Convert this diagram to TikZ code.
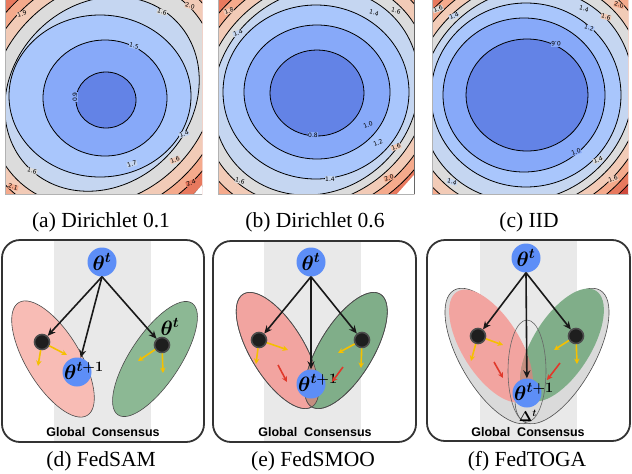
\documentclass[tikz,border=0pt]{standalone}
\usepackage{fontspec}
\setmainfont{Liberation Serif}
\newfontfamily\gcfont{Liberation Sans}
\newfontfamily\dvs{DejaVu Sans}
\usetikzlibrary{arrows.meta,calc}
\definecolor{bz0}{HTML}{6383E6}
\definecolor{bz1}{HTML}{87A9F9}
\definecolor{bz2}{HTML}{A9C6FC}
\definecolor{bz3}{HTML}{C5D6F1}
\definecolor{bz4}{HTML}{DCDCDC}
\definecolor{bz5}{HTML}{F2CBB7}
\definecolor{bz6}{HTML}{F5AA8C}
\definecolor{bz7}{HTML}{E8795E}
\definecolor{bz8}{HTML}{D04A3D}
\definecolor{bz9}{HTML}{B61E2E}
\definecolor{bandgray}{HTML}{E9E9E9}
\definecolor{nodeblue}{HTML}{5D8EF7}
\definecolor{dotcol}{HTML}{1E1E1E}
\definecolor{ygold}{HTML}{F5C000}
\definecolor{rred}{HTML}{E0392B}
\definecolor{pinkd}{HTML}{F8BCB5}
\definecolor{greend}{HTML}{8CB894}
\definecolor{pinke}{HTML}{F2A4A0}
\definecolor{greene}{HTML}{80AE89}
\definecolor{overlapc}{HTML}{C48E80}
\definecolor{grayell}{HTML}{DADADA}
\tikzset{
  contourline/.style={draw=black, line width=0.8pt},
  cl/.style={font=\dvs\fontsize{6}{6}\selectfont, inner sep=0.4pt},
  panelbox/.style={draw=black!80, line width=1.8pt, rounded corners=18pt},
  bluec/.style={circle, fill=nodeblue, minimum size=29pt, inner sep=0pt},
  bdot/.style={circle, fill=dotcol, draw=black!70, line width=1.6pt, minimum size=15pt, inner sep=0pt},
  karr/.style={draw=black!90, line width=1.6pt, -{Stealth[length=8pt,width=7pt]}},
  yarr/.style={draw=ygold, line width=1.6pt, -{Stealth[length=5.5pt,width=5.5pt]}},
  rarr/.style={draw=rred, line width=1.6pt, -{Stealth[length=5.5pt,width=5.5pt]}},
  ellline/.style={draw=black!70, line width=0.6pt},
  thlab/.style={font=\fontsize{21}{21}\selectfont\boldmath, inner sep=0pt},
  gclab/.style={font=\gcfont\bfseries\fontsize{12.5}{12.5}\selectfont, inner sep=0pt},
  captext/.style={font=\fontsize{21.5}{21.5}\selectfont, inner sep=0pt}
}
\begin{document}
\begin{tikzpicture}[x=1pt,y=-1pt]
\useasboundingbox (0,0) rectangle (632,474);
\fill[white] (0,0) rectangle (632,474);

% ---------- contour (a)
\begin{scope}
\clip (5,0) rectangle (202,194);
\fill[bz9] (5,0) rectangle (202,194);
\foreach \a/\b/\x/\y/\r/\c in {
 159/146/103/93/45/bz8, 152/136/103/93/45/bz7, 144/126/103/93/45/bz6,
 134/116/103/93/45/bz5, 122/104/103/93/45/bz4, 104/90/102/94/45/bz3,
 91/81/100/96/0/bz2, 62/58/105/98/0/bz1, 30/28/106/100/0/bz0}
 {\filldraw[fill=\c, contourline, rotate around={\r:(\x,\y)}] (\x,\y) ellipse [x radius=\a, y radius=\b];}
\fill[white] (194,194) -- (202,185) -- (202,194) -- cycle;
\node[cl, fill=bz1, rotate=90] (la1) at (75,97) {0.9};
\node[cl, fill=bz2, rotate=-15] (la2) at (134,46) {1.5};
\node[cl, fill=bz3, rotate=15] (la3) at (132,164) {1.7};
\node[cl, fill=bz3, rotate=20] (la4) at (184,134) {1.4};
\node[cl, fill=bz5, rotate=20] (la5) at (175,160) {1.6};
\node[cl, fill=bz7, rotate=20] (la6) at (191,183) {2.4};
\node[cl, fill=bz4, rotate=-15] (la7) at (162,12) {1.6};
\node[cl, fill=bz5, rotate=-15] (la8) at (190,6) {2.0};
\node[cl, fill=bz5, rotate=15] (la9) at (22,14) {1.9};
\node[cl, fill=bz4, rotate=-15] (la10) at (32,171) {1.6};
\node[cl, fill=bz6, rotate=-15] (la11) at (13,187) {2.1};
\end{scope}
\draw[black!30, line width=0.6pt] (5,0) -- (5,194) -- (202,194);

% ---------- contour (b)
\begin{scope}
\clip (218,0) rectangle (414,194);
\fill[bz9] (218,0) rectangle (414,194);
\foreach \a/\b/\x/\y/\r/\c in {
 156/142/316/92/45/bz8, 149/134/316/92/45/bz7, 141/125/316/92/45/bz6,
 132/116/316/92/45/bz5, 120/106/316/92/45/bz4, 108/98/316/92/45/bz3,
 93/87/316/92/0/bz2, 73/67/317/92/0/bz1, 47/43/317/93/0/bz0}
 {\filldraw[fill=\c, contourline, rotate around={\r:(\x,\y)}] (\x,\y) ellipse [x radius=\a, y radius=\b];}
\fill[white] (397,194) -- (414,175) -- (414,194) -- cycle;
\node[cl, fill=bz1] (lb1) at (313,135) {0.8};
\node[cl, fill=bz1, rotate=20] (lb2) at (368,125) {1.0};
\node[cl, fill=bz2, rotate=20] (lb3) at (378,143) {1.2};
\node[cl, fill=bz3] (lb4) at (330,179) {1.4};
\node[cl, fill=bz3, rotate=-15] (lb5) at (374,13) {1.4};
\node[cl, fill=bz4, rotate=-15] (lb6) at (396,11) {1.6};
\node[cl, fill=bz3, rotate=20] (lb7) at (238,33) {1.4};
\node[cl, fill=bz5, rotate=20] (lb8) at (229,11) {1.8};
\node[cl, fill=bz4, rotate=-15] (lb9) at (240,181) {1.6};
\node[cl, fill=bz5, rotate=20] (lb10) at (396,147) {1.6};
\node[cl, fill=bz6, rotate=20] (lb11) at (389,178) {2.0};
\end{scope}
\draw[black!30, line width=0.6pt] (218,0) -- (218,194) -- (414,194);
\draw[black!60, line width=0.6pt] (414,0) -- (414,194);

% ---------- contour (c)
\begin{scope}
\clip (432,0) rectangle (628,194);
\fill[bz9] (432,0) rectangle (628,194);
\foreach \a/\b/\x/\y/\r/\c in {
 156/142/527/95/45/bz8, 149/135/527/95/45/bz7, 141/127/527/95/45/bz6,
 132/119/527/95/45/bz5, 121/110/527/95/45/bz4, 110/102/527/95/45/bz3,
 95/92/526/95/0/bz2, 81/77/524/95/0/bz1, 61/56/527/95/0/bz0}
 {\filldraw[fill=\c, contourline, rotate around={\r:(\x,\y)}] (\x,\y) ellipse [x radius=\a, y radius=\b];}
\node[cl, fill=bz1, rotate=180] (lc1) at (556,44) {0.6};
\node[cl, fill=bz2, rotate=-15] (lc2) at (589,28) {1.2};
\node[cl, fill=bz3, rotate=-15] (lc3) at (584,9) {1.4};
\node[cl, fill=bz5, rotate=-15] (lc4) at (606,17) {1.6};
\node[cl, fill=bz6, rotate=-15] (lc5) at (619,5) {2.0};
\node[cl, fill=bz3, rotate=20] (lc6) at (454,16) {1.4};
\node[cl, fill=bz4, rotate=20] (lc7) at (438,9) {1.6};
\node[cl, fill=bz1, rotate=20] (lc8) at (576,152) {1.0};
\node[cl, fill=bz4, rotate=20] (lc9) at (598,160) {1.4};
\node[cl, fill=bz5, rotate=20] (lc10) at (613,179) {1.6};
\node[cl, fill=bz3, rotate=-15] (lc11) at (452,182) {1.4};
\end{scope}
\draw[black!30, line width=0.6pt] (432,0) -- (432,194) -- (628,194);

% ---------- captions top
\node[captext] (capa) at (101,222) {(a) Dirichlet 0.1};
\node[captext] (capb) at (315,222) {(b) Dirichlet 0.6};
\node[captext] (capc) at (529,222) {(c) IID};

% ---------- panel (d)
\fill[bandgray] (54,241) rectangle (151,441);
\draw[ellline, fill=pinkd, rotate around={-58.7:(53,359)}] (53,359) ellipse [x radius=66, y radius=27];
\draw[ellline, fill=greend, rotate around={56.5:(155,359)}] (155,359) ellipse [x radius=67, y radius=25];
\draw[panelbox] (2,240) rectangle (204,442);
\node[bluec] (d0) at (102,262) {};
\node[thlab] (d0t) at (d0) {$\theta^{t}$};
\node[bdot] (dL) at (42,342) {};
\node[bdot] (dR) at (162,345) {};
\node[bluec] (d1) at (77,372) {};
\node[thlab, anchor=base west] (d1t) at ($(d1)+(-13,7)$) {$\theta^{t+1}$};
\node[thlab] (dlab) at (170,327) {$\theta^{t}$};
\draw[karr] (d0.south) -- (dL);
\draw[karr] (d0.south) -- (d1);
\draw[karr] (d0.south) -- (dR);
\coordinate (dy1) at (38,366);
\coordinate (dy2) at (67,355);
\coordinate (dy3) at (138,361);
\coordinate (dy4) at (163,373);
\draw[yarr] (dL) -- (dy1);
\draw[yarr] (dL) -- (dy2);
\draw[yarr] (dR) -- (dy3);
\draw[yarr] (dR) -- (dy4);
\node[gclab] (dgc) at (103,432) {Global\ \ Consensus};
\node[captext] (capd) at (101,461) {(d) FedSAM};

% ---------- panel (e)
\fill[bandgray] (264,242) rectangle (361,441);
\draw[ellline, fill=pinke, rotate around={-58.7:(277.5,350.5)}] (277.5,350.5) ellipse [x radius=66, y radius=27];
\draw[ellline, fill=greene, rotate around={58.7:(346,350.5)}] (346,350.5) ellipse [x radius=66, y radius=27];
\begin{scope}
\clip[rotate around={-58.7:(277.5,350.5)}] (277.5,350.5) ellipse [x radius=66, y radius=27];
\fill[overlapc, rotate around={58.7:(346,350.5)}] (346,350.5) ellipse [x radius=66, y radius=27];
\end{scope}
\draw[ellline, rotate around={-58.7:(277.5,350.5)}] (277.5,350.5) ellipse [x radius=66, y radius=27];
\draw[ellline, rotate around={58.7:(346,350.5)}] (346,350.5) ellipse [x radius=66, y radius=27];
\draw[panelbox] (213,241) rectangle (416,442);
\node[bluec] (e0) at (311,262) {};
\node[thlab] (e0t) at (e0) {$\theta^{t}$};
\node[bdot] (eL) at (259,340) {};
\node[bdot] (eR) at (362,340) {};
\node[bluec] (e1) at (311,384) {};
\node[thlab, anchor=base west] (e1t) at ($(e1)+(-13,7)$) {$\theta^{t+1}$};
\draw[karr] (e0.south) -- (eL);
\draw[karr] (e0.south) -- (e1);
\draw[karr] (e0.south) -- (eR);
\coordinate (ey1) at (288,350);
\coordinate (ey2) at (256,364);
\coordinate (ey3) at (338,353);
\coordinate (ey4) at (361,368);
\draw[yarr] (eL) -- (ey1);
\draw[yarr] (eL) -- (ey2);
\draw[yarr] (eR) -- (ey3);
\draw[yarr] (eR) -- (ey4);
\coordinate (er1) at (278,365);
\coordinate (er2) at (287,382);
\coordinate (er3) at (343,367);
\coordinate (er4) at (332,382);
\draw[rarr] (er1) -- (er2);
\draw[rarr] (er3) -- (er4);
\node[gclab] (egc) at (315,432) {Global\ \ Consensus};
\node[captext] (cape) at (313,461) {(e) FedSMOO};

% ---------- panel (f)
\fill[bandgray] (480,241) rectangle (577,440);
\draw[ellline, fill=grayell, rotate around={-60:(492,356)}] (492,356) ellipse [x radius=76, y radius=32];
\draw[ellline, fill=grayell, rotate around={60:(562,356)}] (562,356) ellipse [x radius=76, y radius=32];
\fill[pinke, rotate around={-58:(491,346)}] (491,346) ellipse [x radius=64, y radius=29];
\fill[greene, rotate around={58:(562,345)}] (562,345) ellipse [x radius=64, y radius=29];
\begin{scope}
\clip[rotate around={-58:(491,346)}] (491,346) ellipse [x radius=64, y radius=29];
\fill[overlapc, rotate around={58:(562,345)}] (562,345) ellipse [x radius=64, y radius=29];
\end{scope}
\draw[black!60, line width=0.6pt] (527,371) ellipse [x radius=19, y radius=51];
\draw[panelbox] (427,240) rectangle (630,441);
\node[bluec] (f0) at (526,258) {};
\node[thlab] (f0t) at (f0) {$\theta^{t}$};
\node[bdot] (fL) at (478,336) {};
\node[bdot] (fR) at (576,336) {};
\node[bluec] (f1) at (527,393) {};
\node[thlab, anchor=base west] (f1t) at ($(f1)+(-13,7)$) {$\theta^{t+1}$};
\node[font=\fontsize{14}{14}\selectfont\boldmath, inner sep=0pt] (fD) at (528,416) {$\Delta^{t}$};
\draw[karr] (f0.south) -- (fL);
\draw[karr] (f0.south) -- (f1);
\draw[karr] (f0.south) -- (fR);
\coordinate (fy1) at (503,345);
\coordinate (fy2) at (471,361);
\coordinate (fy3) at (554,350);
\coordinate (fy4) at (577,364);
\draw[yarr] (fL) -- (fy1);
\draw[yarr] (fL) -- (fy2);
\draw[yarr] (fR) -- (fy3);
\draw[yarr] (fR) -- (fy4);
\coordinate (fr1) at (494,362);
\coordinate (fr2) at (503,378);
\coordinate (fr3) at (560,363);
\coordinate (fr4) at (547,380);
\draw[rarr] (fr1) -- (fr2);
\draw[rarr] (fr3) -- (fr4);
\node[gclab] (fgc) at (528,432) {Global\ \ Consensus};
\node[captext] (capf) at (527,461) {(f) FedTOGA};
\end{tikzpicture}
\end{document}
